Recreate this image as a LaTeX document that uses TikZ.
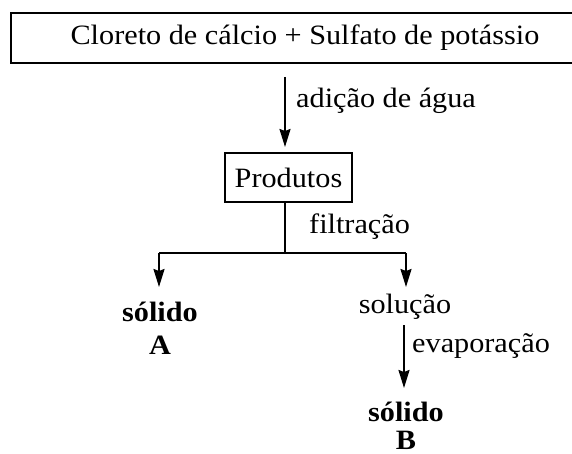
\documentclass[tikz,border=0pt]{standalone}
\usepackage{fontspec}
\setmainfont{Liberation Serif}[FakeStretch=1.08]
\usetikzlibrary{arrows.meta}
\begin{document}
\begin{tikzpicture}[x=1pt,y=-1pt,
  every node/.style={font=\fontsize{28}{30}\selectfont, inner sep=0pt},
  boxed/.style={draw, line width=2pt},
  conn/.style={line width=2pt},
  arr/.style={conn, -{Stealth[length=18pt,width=11pt,inset=2pt]}},
  lbl/.style={anchor=west},
  bold/.style={font=\fontsize{28}{30}\selectfont\bfseries}]
\useasboundingbox (0,0) rectangle (572,454);
\node[boxed, minimum width=588pt, minimum height=50pt] (top) at (305,38) {Cloreto de cálcio + Sulfato de potássio};
\node[boxed, minimum width=127pt, minimum height=49pt] (prod) at (288.5,177.5) {Produtos};
\coordinate (astart) at (285,77);
\coordinate (split) at (285,253);
\coordinate (lft) at (159,253);
\coordinate (rgt) at (406,253);
\node[bold] (sa) at (160,312) {sólido};
\node[bold] (A) at (160,345) {A};
\node (sol) at (405,307) {solução};
\node[bold] (sb) at (406,412) {sólido};
\node[bold] (B) at (406,440) {B};
\draw[arr] (astart) -- ([yshift=5pt]prod.north -| astart);
\node[lbl] (adic) at (296,101) {adição de água};
\draw[conn] (prod.south -| split) -- (split);
\draw[conn] (lft) -- (rgt);
\draw[arr] (lft) -- (159,287);
\draw[arr] (rgt) -- (406,287);
\node[lbl] (filt) at (309,227) {filtração};
\draw[arr] (404,325) -- (404,388);
\node[lbl] (evap) at (412,346) {evaporação};
\end{tikzpicture}
\end{document}
